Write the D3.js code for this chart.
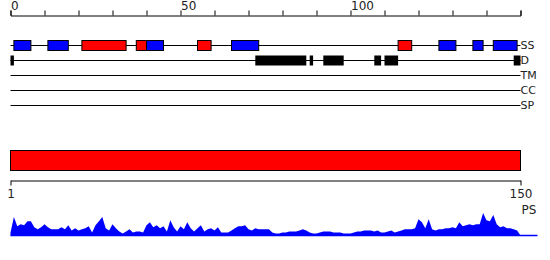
<!DOCTYPE html>
<html>
<head>
<meta charset="utf-8">
<script src="https://cdn.jsdelivr.net/npm/d3@7"></script>
<style>
  body { margin: 0; background: #fff; }
  text { font-family: "DejaVu Sans", sans-serif; fill: #222; }
</style>
</head>
<body>
<div id="chart"></div>
<script>
// track names, top to bottom
const tracks = ["SS", "D", "TM", "CC", "SP"];

// secondary structure segments (residue start, end, type)
const ssStart = [1, 11, 21, 37, 40, 55, 65, 114, 126, 136, 142];
const ssEnd   = [6, 17, 34, 40, 45, 59, 73, 118, 131, 139, 149];
const ssType  = ["E", "E", "H", "H", "E", "H", "E", "H", "E", "E", "E"];

// disordered regions
const disStart = [0, 72, 88, 92, 107, 110, 148];
const disEnd   = [1, 87, 89, 98, 109, 114, 150];

const seqLen = 150;
const topTicks = [0, 50, 100];

// per-residue PS profile, residue 0..150
const psValues = [
  3, 18, 9, 11, 10, 14, 14, 8, 6, 8,
  11, 8, 6, 6, 6, 8, 6, 10, 5, 7,
  5, 6, 7, 9, 3, 10, 14, 18, 7, 5,
  11, 7, 4, 2, 4, 6, 3, 4, 4, 3,
  10, 13, 8, 10, 7, 9, 4, 15, 8, 4,
  9, 6, 13, 7, 4, 7, 10, 4, 6, 7,
  5, 8, 3, 3, 3, 5, 7, 9, 9, 10,
  6, 5, 7, 6, 6, 6, 6, 3, 2, 2,
  3, 3, 4, 4, 4, 5, 6, 5, 3, 2,
  2, 3, 4, 4, 4, 3, 3, 3, 2, 2,
  2, 3, 4, 4, 5, 5, 5, 4, 5, 3,
  3, 4, 5, 3, 4, 5, 6, 6, 6, 7,
  16, 13, 7, 16, 6, 5, 6, 6, 7, 7,
  8, 7, 13, 9, 10, 11, 10, 11, 11, 22,
  15, 14, 20, 11, 8, 9, 7, 7, 6, 5,
  0
];

const W = 550, H = 260;
const svg = d3.select("#chart").append("svg")
  .attr("width", W).attr("height", H);

const x = d3.scaleLinear().domain([0, seqLen]).range([10.5, 520.5]);
const trackY = d3.scalePoint().domain(tracks).range([45.5, 105.5]);
const colour = { H: "#ff0000", E: "#0000ff" };

// top ruler
const topAxis = d3.axisTop(x)
  .ticks(15)
  .tickSize(5)
  .tickFormat(d => topTicks.includes(d) ? d : "");
const gTop = svg.append("g")
  .attr("transform", "translate(0,15.5)")
  .call(topAxis);
gTop.select(".domain").attr("stroke", "#000");
gTop.selectAll(".tick line").attr("stroke", "#000");
gTop.selectAll(".tick text")
  .attr("text-anchor", "start")
  .attr("font-size", 12)
  .attr("font-family", "DejaVu Sans, sans-serif")
  .attr("fill", "#222")
  .attr("y", -6)
  .attr("dy", 0);

// track lines + labels
const gTracks = svg.append("g");
gTracks.selectAll("line")
  .data(tracks).enter().append("line")
  .attr("x1", x(0)).attr("x2", x(seqLen))
  .attr("y1", d => trackY(d)).attr("y2", d => trackY(d))
  .attr("stroke", "#000");
gTracks.selectAll("text")
  .data(tracks).enter().append("text")
  .attr("x", x(seqLen))
  .attr("y", d => trackY(d))
  .attr("dy", "0.36em")
  .attr("font-size", 11)
  .text(d => d);

// SS boxes
const ssData = ssStart.map((s, i) => ({ s: s, e: ssEnd[i], t: ssType[i] }));
svg.append("g").selectAll("rect")
  .data(ssData).enter().append("rect")
  .attr("x", d => x(d.s))
  .attr("width", d => x(d.e) - x(d.s))
  .attr("y", trackY("SS") - 5)
  .attr("height", 10)
  .attr("fill", d => colour[d.t])
  .attr("stroke", "#000");

// disorder boxes
const disData = disStart.map((s, i) => ({ s: s, e: disEnd[i] }));
svg.append("g").selectAll("rect")
  .data(disData).enter().append("rect")
  .attr("x", d => x(d.s))
  .attr("width", d => x(d.e) - x(d.s))
  .attr("y", trackY("D") - 5)
  .attr("height", 10)
  .attr("fill", "#000");

// full-length domain bar
svg.append("rect")
  .attr("x", x(0)).attr("width", x(seqLen) - x(0))
  .attr("y", 150.5).attr("height", 20)
  .attr("fill", "#ff0000")
  .attr("stroke", "#000");

// bottom ruler 1..150
const x2 = d3.scaleLinear().domain([1, seqLen]).range(x.range());
const gBot = svg.append("g")
  .attr("transform", "translate(0,180.5)")
  .call(d3.axisBottom(x2).tickValues([1, seqLen]).tickSize(5).tickSizeOuter(0));
gBot.select(".domain").attr("stroke", "#000");
gBot.selectAll(".tick line").attr("stroke", "#000");
gBot.selectAll(".tick text")
  .attr("font-size", 12)
  .attr("font-family", "DejaVu Sans, sans-serif")
  .attr("fill", "#222")
  .attr("y", 9);

// PS profile
const yPs = d3.scaleLinear().domain([0, 22]).range([235.5, 213]);
svg.append("path")
  .datum(psValues)
  .attr("fill", "#0000ff")
  .attr("d", d3.area()
    .x((d, i) => x(i))
    .y0(yPs(0))
    .y1(d => yPs(d)));
svg.append("line")
  .attr("x1", x(0)).attr("x2", x(seqLen) + 17)
  .attr("y1", yPs(0)).attr("y2", yPs(0))
  .attr("stroke", "#0000ff").attr("stroke-width", 1.5);
svg.append("text")
  .attr("x", x(seqLen) + 1)
  .attr("y", 214)
  .attr("font-size", 12)
  .text("PS");
</script>
</body>
</html>
